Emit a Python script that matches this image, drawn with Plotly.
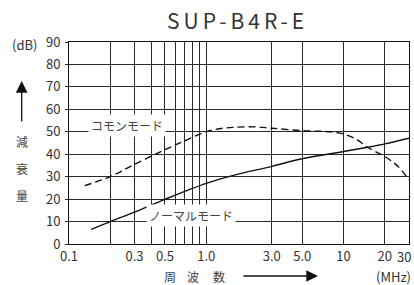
import math
import plotly.graph_objects as go

# ---- data ----
cm_freq = [0.13, 0.2, 0.3, 0.5, 0.7, 1.0, 1.3, 1.6, 2.2, 3.0, 5.0, 8.0, 10, 12.7, 15, 20, 25, 30]
cm_db = [26, 30, 35.5, 42, 46, 50.1, 51.5, 52, 52.2, 51.6, 50.5, 50, 49, 46.3, 43, 39, 34.5, 28.6]

nm_freq = [0.145, 0.2, 0.3, 0.5, 1.0, 1.6, 3.0, 5.0, 10, 15, 20, 30]
nm_db = [6.5, 10, 14.2, 19.9, 27, 30.7, 34.6, 38, 41.2, 43.1, 44.6, 47.1]

x_grid = [0.1, 0.2, 0.3, 0.4, 0.5, 0.6, 0.7, 0.8, 0.9, 1.0, 3.0, 5.0, 10, 20, 30]
x_text = ["0.1", "", "0.3", "", "0.5", "", "", "", "", "1.0", "3.0", "5.0", "10", "20", "30"]
y_ticks = [0, 10, 20, 30, 40, 50, 60, 70, 80, 90]

title = "SUP-B4R-E"
cm_label = "コモンモード"
nm_label = "ノーマルモード"
y_unit = "(dB)"
y_title = ["減", "衰", "量"]
x_title = ["周", "波", "数"]
x_unit = "(MHz)"

# ---- layout geometry (pixels) ----
W, H = 414, 285
L, R, T, B = 69, 5, 42, 41
PW, PH = W - L - R, H - T - B


def px(xp):
    return (xp - L) / PW


def py(yp):
    return (H - B - yp) / PH


FONT = "Noto Sans CJK JP"
TXT = "#333333"
LBL = "#444444"

fig = go.Figure()
fig.add_trace(go.Scatter(x=cm_freq, y=cm_db, mode="lines",
                         line=dict(color="#111111", width=1.4, dash="7px,4px"),
                         line_shape="spline", showlegend=False, hoverinfo="skip"))
fig.add_trace(go.Scatter(x=nm_freq, y=nm_db, mode="lines",
                         line=dict(color="#111111", width=1.4),
                         line_shape="spline", showlegend=False, hoverinfo="skip"))

# the last tick label sits at the right edge of the plot (= x_grid[-1]):
# drawn right-aligned so it stays visible
tick_text_axis = x_text[:-1] + [""]

ann = []
ann.append(dict(x=1.0, y=py(256), xref="paper", yref="paper",
                text=x_text[-1], showarrow=False, xshift=4,
                font=dict(size=13, color=TXT, family=FONT),
                xanchor="right", yanchor="middle"))
ann.append(dict(x=px(237.5), y=py(20), xref="paper", yref="paper",
                text='<span style="letter-spacing:4px">' + title + '</span>',
                showarrow=False, font=dict(size=21, color=TXT, family=FONT),
                xanchor="center", yanchor="middle"))
ann.append(dict(x=px(24), y=py(44), xref="paper", yref="paper", text=y_unit,
                showarrow=False, font=dict(size=13, color=TXT, family=FONT),
                xanchor="center", yanchor="middle"))
for ch, yy in zip(y_title, [141.7, 168, 195]):
    ann.append(dict(x=px(21.7), y=py(yy), xref="paper", yref="paper", text=ch,
                    showarrow=False, font=dict(size=12, color=LBL, family=FONT),
                    xanchor="center", yanchor="middle"))
for ch, xx in zip(x_title, [170, 193, 218.7]):
    ann.append(dict(x=px(xx), y=py(276.7), xref="paper", yref="paper", text=ch,
                    showarrow=False, font=dict(size=12, color=LBL, family=FONT),
                    xanchor="center", yanchor="middle"))
ann.append(dict(x=px(393), y=py(276), xref="paper", yref="paper", text=x_unit,
                showarrow=False, font=dict(size=13, color=TXT, family=FONT),
                xanchor="center", yanchor="middle"))
# arrows
ann.append(dict(x=px(21.7), y=py(81), xref="paper", yref="paper", text="",
                showarrow=True, ax=0, ay=42, arrowhead=2, arrowsize=1.8,
                arrowwidth=1.3, arrowcolor="#111111", standoff=0, startstandoff=0))
ann.append(dict(x=px(318), y=py(276), xref="paper", yref="paper", text="",
                showarrow=True, ax=-76, ay=0, arrowhead=2, arrowsize=1.8,
                arrowwidth=1.3, arrowcolor="#111111", standoff=0, startstandoff=0))
# curve labels
ann.append(dict(x=px(126.7), y=py(125), xref="paper", yref="paper", text=cm_label,
                showarrow=False, font=dict(size=12, color=LBL, family=FONT),
                bgcolor="white", borderpad=2, xanchor="center", yanchor="middle"))
ann.append(dict(x=px(190.8), y=py(215), xref="paper", yref="paper", text=nm_label,
                showarrow=False, font=dict(size=12, color=LBL, family=FONT),
                bgcolor="white", borderpad=2, xanchor="center", yanchor="middle"))

fig.update_layout(
    width=W, height=H,
    margin=dict(l=L, r=R, t=T, b=B, autoexpand=False),
    paper_bgcolor="white", plot_bgcolor="white",
    annotations=ann,
    hovermode=False,
    font=dict(family=FONT, color=TXT, size=13),
    xaxis=dict(type="log", range=[math.log10(x_grid[0]), math.log10(x_grid[-1])],
               tickvals=x_grid, ticktext=tick_text_axis,
               showgrid=True, gridcolor="#2a2a2a", gridwidth=1,
               showline=True, mirror=True, linecolor="#111111", linewidth=1,
               ticks="", zeroline=False, ticklabelstandoff=0,
               tickfont=dict(size=13, color=TXT, family=FONT)),
    yaxis=dict(range=[0, 90], tickvals=y_ticks,
               showgrid=True, gridcolor="#2a2a2a", gridwidth=1,
               showline=True, mirror=True, linecolor="#111111", linewidth=1,
               ticks="outside", ticklen=3, tickcolor="#2a2a2a", zeroline=False,
               ticklabelstandoff=2,
               tickfont=dict(size=13, color=TXT, family=FONT)),
)

fig.write_html("out.html",
               config={"displayModeBar": False},
               post_script="document.body.style.margin='0';"
                           "document.body.style.overflow='hidden';")
